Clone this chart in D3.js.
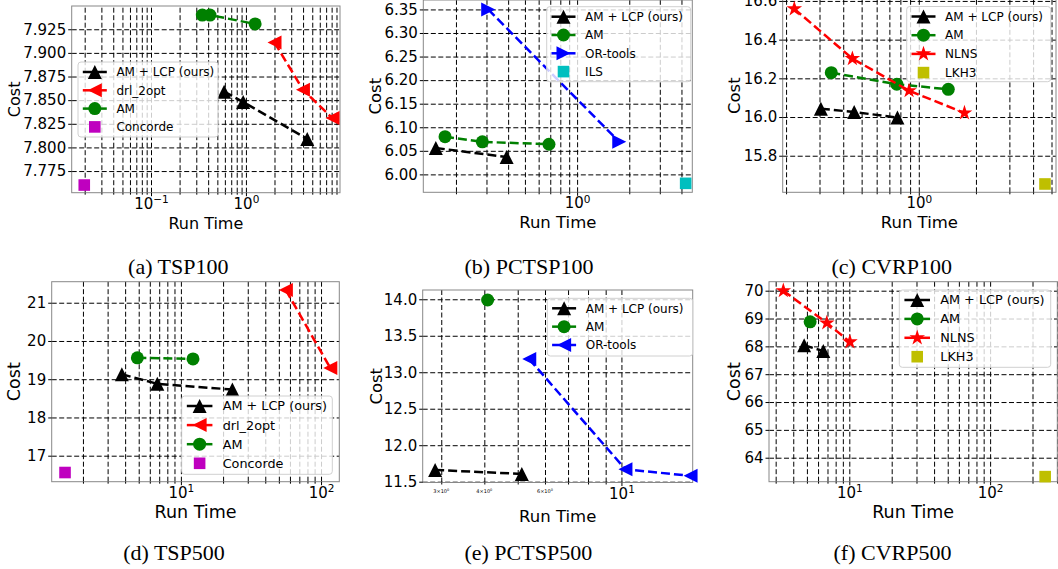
<!DOCTYPE html>
<html>
<head>
<meta charset="utf-8">
<script src="https://cdn.jsdelivr.net/npm/d3@7"></script>
<style>
  body { margin: 0; background: #fff; }
  svg { display: block; font-family: "DejaVu Sans", sans-serif; }
</style>
</head>
<body>
<div id="chart"></div>
<script>
// values, each point is [run time, cost]

// (a) TSP100
const tsp100Lcp = [[0.589, 7.859], [0.936, 7.848], [4.43, 7.809]];
const tsp100Drl = [[2.0, 7.911], [3.99, 7.861], [8.17, 7.831]];
const tsp100Am = [[0.347, 7.940], [0.418, 7.940], [1.25, 7.9306]];
const tsp100Concorde = [[0.0198, 7.7602]];
const tsp100CostTicks = [7.775, 7.8, 7.825, 7.85, 7.875, 7.9, 7.925];

// (b) PCTSP100
const pctsp100Lcp = [[0.153, 6.056], [0.392, 6.037]];
const pctsp100Am = [[0.173, 6.080], [0.284, 6.069], [0.688, 6.064]];
const pctsp100OrTools = [[0.307, 6.35], [1.75, 6.069]];
const pctsp100Ils = [[4.23, 5.981]];
const pctsp100CostTicks = [6.00, 6.05, 6.10, 6.15, 6.20, 6.25, 6.30, 6.35];

// (c) CVRP100
const cvrp100Lcp = [[0.305, 16.043], [0.457, 16.026], [0.772, 15.997]];
const cvrp100Am = [[0.346, 16.229], [0.766, 16.17], [1.43, 16.143]];
const cvrp100Nlns = [[0.221, 16.559], [0.447, 16.302], [0.889, 16.136], [1.74, 16.021]];
const cvrp100Lkh3 = [[4.62, 15.654]];
const cvrp100CostTicks = [15.8, 16.0, 16.2, 16.4, 16.6];

// (d) TSP500
const tsp500Lcp = [[3.79, 19.13], [6.79, 18.88], [23.3, 18.73]];
const tsp500Drl = [[56.1, 21.33], [116.5, 19.29]];
const tsp500Am = [[4.89, 19.56], [12.2, 19.53]];
const tsp500Concorde = [[1.49, 16.56]];
const tsp500CostTicks = [17, 18, 19, 20, 21];

// (e) PCTSP500
const pctsp500Lcp = [[2.88, 11.661], [5.14, 11.606]];
const pctsp500Am = [[4.09, 13.99]];
const pctsp500OrTools = [[5.40, 13.18], [10.27, 11.67], [15.87, 11.58]];
const pctsp500CostTicks = [11.5, 12.0, 12.5, 13.0, 13.5, 14.0];
const pctsp500MinorLabels = [3, 4, 6];

// (f) CVRP500
const cvrp500Lcp = [[4.78, 68.04], [6.54, 67.83]];
const cvrp500Am = [[5.27, 68.88]];
const cvrp500Nlns = [[3.40, 70.0], [6.92, 68.84], [10.1, 68.16]];
const cvrp500Lkh3 = [[246, 63.32]];
const cvrp500CostTicks = [64, 65, 66, 67, 68, 69, 70];

// marker + colour per method
const styles = {
  lcp:      { color: "#000000", marker: "^", line: true },
  drl:      { color: "#ff0000", marker: "<", line: true },
  am:       { color: "#008000", marker: "o", line: true },
  concorde: { color: "#bf00bf", marker: "s", line: false },
  orRight:  { color: "#0000ff", marker: ">", line: true },
  orLeft:   { color: "#0000ff", marker: "<", line: true },
  ils:      { color: "#00bfbf", marker: "s", line: false },
  nlns:     { color: "#ff0000", marker: "*", line: true },
  lkh3:     { color: "#bfbf00", marker: "s", line: false }
};

const panels = [
  { frame: { l: 71.7, r: 340, t: 6, b: 192.7 }, xDomain: [0.0146, 9.8], yDomain: [7.7521, 7.9496],
    yTicks: tsp100CostTicks, yFmt: d3.format(".3f"),
    series: [["AM + LCP (ours)", tsp100Lcp, "lcp"], ["drl_2opt", tsp100Drl, "drl"], ["AM", tsp100Am, "am"], ["Concorde", tsp100Concorde, "concorde"]],
    legend: { x: 78, y: 62, w: 140, h: 75, fs: 12, row: 18.3 },
    caption: "(a) TSP100", capX: 178.3, capY: 274, costX: 14, labelFs: 16 },
  { frame: { l: 423.3, r: 692.3, t: 0, b: 192.3 }, xDomain: [0.1296, 4.62], yDomain: [5.962, 6.370],
    yTicks: pctsp100CostTicks, yFmt: d3.format(".2f"),
    series: [["AM + LCP (ours)", pctsp100Lcp, "lcp"], ["AM", pctsp100Am, "am"], ["OR-tools", pctsp100OrTools, "orRight"], ["ILS", pctsp100Ils, "ils"]],
    legend: { x: 546.7, y: 6.7, w: 144, h: 75, fs: 12, row: 18.3 },
    caption: "(b) PCTSP100", capX: 529, capY: 274, costX: 375, labelFs: 16.5 },
  { frame: { l: 782.7, r: 1056, t: -1, b: 192.3 }, xDomain: [0.192, 5.28], yDomain: [15.611, 16.61],
    yTicks: cvrp100CostTicks, yFmt: d3.format(".1f"),
    series: [["AM + LCP (ours)", cvrp100Lcp, "lcp"], ["AM", cvrp100Am, "am"], ["NLNS", cvrp100Nlns, "nlns"], ["LKH3", cvrp100Lkh3, "lkh3"]],
    legend: { x: 906.7, y: 6.5, w: 144, h: 75.2, fs: 12, row: 18.7 },
    caption: "(c) CVRP100", capX: 891.7, capY: 274, costX: 734, labelFs: 16.5 },
  { frame: { l: 51.7, r: 339.3, t: 281.7, b: 481.7 }, xDomain: [1.197, 135], yDomain: [16.32, 21.55],
    yTicks: tsp500CostTicks, yFmt: d3.format("d"),
    series: [["AM + LCP (ours)", tsp500Lcp, "lcp"], ["drl_2opt", tsp500Drl, "drl"], ["AM", tsp500Am, "am"], ["Concorde", tsp500Concorde, "concorde"]],
    legend: { x: 181.7, y: 396, w: 150.6, h: 78.3, fs: 12.8, row: 19.1 },
    caption: "(d) TSP500", capX: 174, capY: 559.5, costX: 14, labelFs: 17.5 },
  { frame: { l: 422.7, r: 692.7, t: 290, b: 482.5 }, xDomain: [2.65, 16.1], yDomain: [11.489, 14.127],
    yTicks: pctsp500CostTicks, yFmt: d3.format(".1f"), minorLabels: pctsp500MinorLabels,
    series: [["AM + LCP (ours)", pctsp500Lcp, "lcp"], ["AM", pctsp500Am, "am"], ["OR-tools", pctsp500OrTools, "orLeft"]],
    legend: { x: 547.3, y: 298.3, w: 145.4, h: 57.7, fs: 12, row: 18.35 },
    caption: "(e) PCTSP500", capX: 528.3, capY: 559.5, costX: 376.7, labelFs: 16.5 },
  { frame: { l: 769, r: 1057.3, t: 281.7, b: 481.7 }, xDomain: [2.69, 300], yDomain: [63.138, 70.323],
    yTicks: cvrp500CostTicks, yFmt: d3.format("d"),
    series: [["AM + LCP (ours)", cvrp500Lcp, "lcp"], ["AM", cvrp500Am, "am"], ["NLNS", cvrp500Nlns, "nlns"], ["LKH3", cvrp500Lkh3, "lkh3"]],
    legend: { x: 899.3, y: 290, w: 151.4, h: 77.3, fs: 12.8, row: 18.9 },
    caption: "(f) CVRP500", capX: 892.5, capY: 559.5, costX: 734.3, labelFs: 17.5 }
];

const svg = d3.select("#chart").append("svg")
    .attr("width", 1058)
    .attr("height", 569);

// matplotlib-like marker shapes
function markerPath(type) {
  switch (type) {
    case "^": return "M0,-7L7,7L-7,7Z";
    case "<": return "M-7,0L7,-7L7,7Z";
    case ">": return "M7,0L-7,-7L-7,7Z";
    case "s": return "M-5.8,-5.8H5.8V5.8H-5.8Z";
    case "o": return d3.symbol(d3.symbolCircle, Math.PI * 6.5 * 6.5)();
    case "*": {
      const pts = [];
      for (let i = 0; i < 10; i++) {
        const r = i % 2 === 0 ? 8.2 : 8.2 * 0.382;
        const a = -Math.PI / 2 + i * Math.PI / 5;
        pts.push([r * Math.cos(a), r * Math.sin(a)]);
      }
      return "M" + pts.map(p => p.join(",")).join("L") + "Z";
    }
  }
}

function supLabel(sel, base, exp, size) {
  sel.text(null);
  sel.append("tspan").text(base);
  sel.append("tspan").attr("dy", "-0.5em").attr("font-size", size).text(exp);
}

function drawPanel(p) {
  const f = p.frame;
  const x = d3.scaleLog().domain(p.xDomain).range([f.l, f.r]);
  const y = d3.scaleLinear().domain(p.yDomain).range([f.b, f.t]);
  const g = svg.append("g");

  // major / minor decades within the domain
  const majors = [], minors = [];
  const lo = Math.floor(Math.log10(p.xDomain[0])), hi = Math.ceil(Math.log10(p.xDomain[1]));
  for (let e = lo; e <= hi; e++) {
    for (let k = 1; k <= 9; k++) {
      const v = k * Math.pow(10, e);
      if (v < p.xDomain[0] || v > p.xDomain[1]) continue;
      (k === 1 ? majors : minors).push(v);
    }
  }

  // dashed grid
  const gridX = g.append("g")
      .attr("transform", `translate(0,${f.b})`)
      .call(d3.axisBottom(x).tickValues(majors.concat(minors)).tickSize(-(f.b - f.t)).tickFormat(""));
  const gridY = g.append("g")
      .attr("transform", `translate(${f.l},0)`)
      .call(d3.axisLeft(y).tickValues(p.yTicks).tickSize(-(f.r - f.l)).tickFormat(""));
  [gridX, gridY].forEach(a => {
    a.select(".domain").remove();
    a.selectAll("line").attr("stroke", "#000").attr("stroke-width", 1).attr("stroke-dasharray", "5,2.5");
  });

  // frame
  g.append("rect")
      .attr("x", f.l).attr("y", f.t)
      .attr("width", f.r - f.l).attr("height", f.b - f.t)
      .attr("fill", "none").attr("stroke", "#888").attr("stroke-width", 1);

  // y axis ticks
  const yAxis = g.append("g")
      .attr("transform", `translate(${f.l},0)`)
      .call(d3.axisLeft(y).tickValues(p.yTicks).tickFormat(p.yFmt).tickSize(3.5).tickPadding(2));
  yAxis.select(".domain").remove();
  yAxis.selectAll("text").attr("font-size", 15).attr("font-family", "DejaVu Sans").attr("fill", "#000");

  // x axis ticks with 10^k labels
  const xAxis = g.append("g")
      .attr("transform", `translate(0,${f.b})`)
      .call(d3.axisBottom(x).tickValues(majors).tickFormat("").tickSize(3.5));
  xAxis.select(".domain").remove();
  xAxis.selectAll(".tick text")
      .attr("font-size", 15).attr("font-family", "DejaVu Sans").attr("fill", "#000")
      .attr("y", 16).attr("dy", 0)
      .each(function (d) {
        const e = Math.round(Math.log10(d));
        supLabel(d3.select(this), "10", e < 0 ? "\u2212" + (-e) : String(e), "10.5px");
      });
  g.append("g").attr("transform", `translate(0,${f.b})`)
      .call(d3.axisBottom(x).tickValues(minors).tickFormat("").tickSize(2))
      .select(".domain").remove();

  if (p.minorLabels) {
    p.minorLabels.forEach(k => {
      const t = g.append("text")
          .attr("x", x(k)).attr("y", f.b + 10)
          .attr("text-anchor", "middle")
          .attr("font-size", 5)
          .attr("fill", "#000");
      supLabel(t, k + "\u00d710", "0", "3.5px");
    });
  }

  // axis labels
  g.append("text")
      .attr("x", (f.l + f.r) / 2)
      .attr("y", f.b + (p.minorLabels ? 39 : 36))
      .attr("text-anchor", "middle")
      .attr("font-size", p.labelFs)
      .text("Run Time");
  g.append("text")
      .attr("transform", `translate(${p.costX},${(f.t + f.b) / 2}) rotate(-90)`)
      .attr("text-anchor", "middle")
      .attr("dy", "0.35em")
      .attr("font-size", p.labelFs)
      .text("Cost");

  // data
  const line = d3.line().x(d => x(d[0])).y(d => y(d[1]));
  p.series.forEach(([name, data, key]) => {
    const s = styles[key];
    if (s.line && data.length > 1) {
      g.append("path")
          .datum(data)
          .attr("d", line)
          .attr("fill", "none")
          .attr("stroke", s.color)
          .attr("stroke-width", 2.5)
          .attr("stroke-dasharray", "9,4");
    }
    g.selectAll(null)
        .data(data)
        .enter()
        .append("path")
        .attr("d", markerPath(s.marker))
        .attr("transform", d => `translate(${x(d[0])},${y(d[1])})`)
        .attr("fill", s.color);
  });

  // legend
  const L = p.legend;
  const lg = g.append("g");
  lg.append("rect")
      .attr("x", L.x).attr("y", L.y)
      .attr("width", L.w).attr("height", L.h)
      .attr("rx", 3)
      .attr("fill", "#fff").attr("fill-opacity", 0.8)
      .attr("stroke", "#d0d0d0").attr("stroke-width", 1);
  p.series.forEach(([name, data, key], i) => {
    const s = styles[key];
    const cy = L.y + 10 + i * L.row;
    const x0 = L.x + 0.4 * L.fs, x1 = x0 + 2 * L.fs;
    if (s.line) {
      lg.append("line")
          .attr("x1", x0).attr("x2", x1)
          .attr("y1", cy).attr("y2", cy)
          .attr("stroke", s.color).attr("stroke-width", 2.5);
    }
    lg.append("path")
        .attr("d", markerPath(s.marker))
        .attr("transform", `translate(${(x0 + x1) / 2},${cy})`)
        .attr("fill", s.color);
    lg.append("text")
        .attr("x", x1 + 0.8 * L.fs)
        .attr("y", cy)
        .attr("dy", "0.35em")
        .attr("font-size", L.fs)
        .text(name);
  });

  // caption
  svg.append("text")
      .attr("x", p.capX)
      .attr("y", p.capY)
      .attr("text-anchor", "middle")
      .attr("font-family", "'Liberation Serif', 'Times New Roman', serif")
      .attr("font-size", 22)
      .text(p.caption);
}

panels.forEach(drawPanel);
</script>
</body>
</html>
